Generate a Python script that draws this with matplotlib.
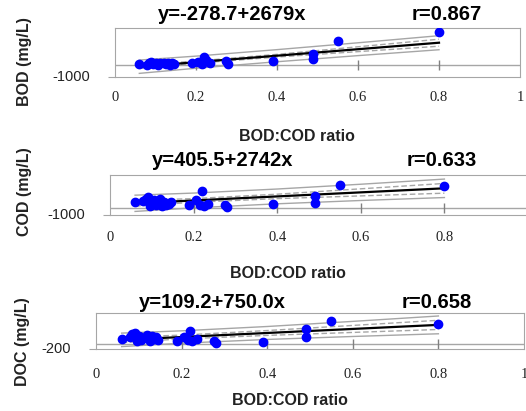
import numpy as np
import matplotlib
matplotlib.use("Agg")
import matplotlib.pyplot as plt

# BOD:COD ratio (shared by all three panels)
ratio = [0.06, 0.08, 0.085, 0.09, 0.095, 0.10, 0.105, 0.11, 0.12, 0.125, 0.13, 0.135, 0.14, 0.145,
         0.19, 0.205, 0.215, 0.22, 0.225, 0.235, 0.275, 0.28, 0.39, 0.49, 0.49, 0.55, 0.80]

bod = [120, 50, 180, 250, 100, 200, 30, 150, 220, 80, 180, 40, 200, 100,
       170, 250, 120, 680, 400, 200, 340, 100, 390, 960, 540, 1970, 2740]
cod = [780, 900, 1200, 1430, 260, 700, 1000, 400, 1130, 260, 800, 400, 480, 700,
       390, 1000, 350, 2210, 250, 500, 350, 40, 480, 1560, 610, 2990, 2860]
doc = [200, 250, 380, 400, 120, 300, 150, 220, 350, 120, 300, 180, 250, 150,
       120, 250, 150, 490, 130, 180, 120, 40, 60, 570, 250, 860, 750]

# regression parameters shown in the titles
fits = [(-278.7, 2679.0, "y=-278.7+2679x", "r=0.867"),
        (405.5, 2742.0, "y=405.5+2742x", "r=0.633"),
        (109.2, 750.0, "y=109.2+750.0x", "r=0.658")]

# band half widths
band_x = [0.06, 0.2, 0.4, 0.6, 0.8]
outer_bands = [[550, 500, 500, 530, 580],
               [1100, 1000, 1000, 1100, 1250],
               [250, 230, 240, 280, 330]]
inner_bands = [[150, 90, 110, 200, 290],
               [380, 250, 300, 480, 660],
               [100, 70, 90, 130, 170]]

ylabels = ["BOD (mg/L)", "COD (mg/L)", "DOC (mg/L)"]
ylims = [(-1000, 3080), (-1000, 4400), (-200, 1150)]
xticks = [0, 0.2, 0.4, 0.6, 0.8, 1]
xticklabels = ["0", "0.2", "0.4", "0.6", "0.8", "1"]

W, H = 526, 411
fig = plt.figure(figsize=(W / 100, H / 100), dpi=100)


def fx(px):
    return px / W


def fy(py):
    return 1 - py / H


# panel boxes in pixels: left, right, top, bottom
boxes = [(115, 520, 28, 77.4), (110, 528, 175, 214.9), (96, 524, 313, 349.4)]
titles_y = [14, 160.5, 302]
eq_x = [232, 223, 212]
r_x = [447, 442, 437]
ylab_pos = [(25, 62), (25, 192), (23, 342)]
tick_y = [97, 237, 374]
xlab_y = [136, 273, 400]
xlab_x = [297, 288, 290]

grey = "#a6a6a6"
font = ["Liberation Sans", "DejaVu Sans"]
series = [bod, cod, doc]

for i in range(3):
    l, r, t, b = boxes[i]
    ax = fig.add_axes([fx(l), fy(b), fx(r) - fx(l), (b - t) / H])
    a, m, eq, rr = fits[i]
    ax.set_xlim(0, 1)
    ax.set_ylim(*ylims[i])

    bx = np.array(band_x)
    line = a + m * bx
    for sgn in [1, -1]:
        ax.plot(bx, line + sgn * np.array(outer_bands[i]), color=grey, lw=1)
        ax.plot(bx, line + sgn * np.array(inner_bands[i]), color=grey, lw=1, ls=(0, (4, 2)))

    ax.axhline(0, color=grey, lw=1)
    ax.plot(xticks[1:-1], [0] * 4, ls="none", marker="|", markersize=7, color="#808080", mew=1)

    xs = np.array([min(ratio), max(ratio)])
    ax.plot(xs, a + m * xs, color="black", lw=1.6, zorder=4)
    ax.plot(ratio, series[i], "o", color="#0000ff", markersize=6, mec="#0000ff", zorder=5)

    for s in ax.spines.values():
        s.set_color(grey)
    ax.set_xticks([])
    ax.set_yticks([ylims[i][0]])
    ax.set_yticklabels([])
    ax.tick_params(axis="y", length=5, color=grey)

    fig.text(fx(l - 25), fy(b), str(ylims[i][0]), ha="right", va="center",
             fontsize=10.5, family=font, color="#222222")
    for xv, lab in zip(xticks, xticklabels):
        fig.text(fx(l + xv * (r - l)), fy(tick_y[i]), lab, ha="center", va="center",
                 fontsize=10.5, family=["Liberation Serif", "DejaVu Serif"], color="#222222")
    fig.text(fx(eq_x[i]), fy(titles_y[i]), eq, ha="center", va="center",
             fontsize=14.5, fontweight="bold", family=font)
    fig.text(fx(r_x[i]), fy(titles_y[i]), rr, ha="center", va="center",
             fontsize=14.5, fontweight="bold", family=font)
    fig.text(fx(ylab_pos[i][0]), fy(ylab_pos[i][1]), ylabels[i], ha="center", va="center",
             rotation=90, fontsize=11.5, fontweight="bold", family=font, color="#222222")
    fig.text(fx(xlab_x[i]), fy(xlab_y[i]), "BOD:COD ratio", ha="center", va="center",
             fontsize=11.5, fontweight="bold", family=font, color="#222222")

fig.savefig("out.png", dpi=100)
